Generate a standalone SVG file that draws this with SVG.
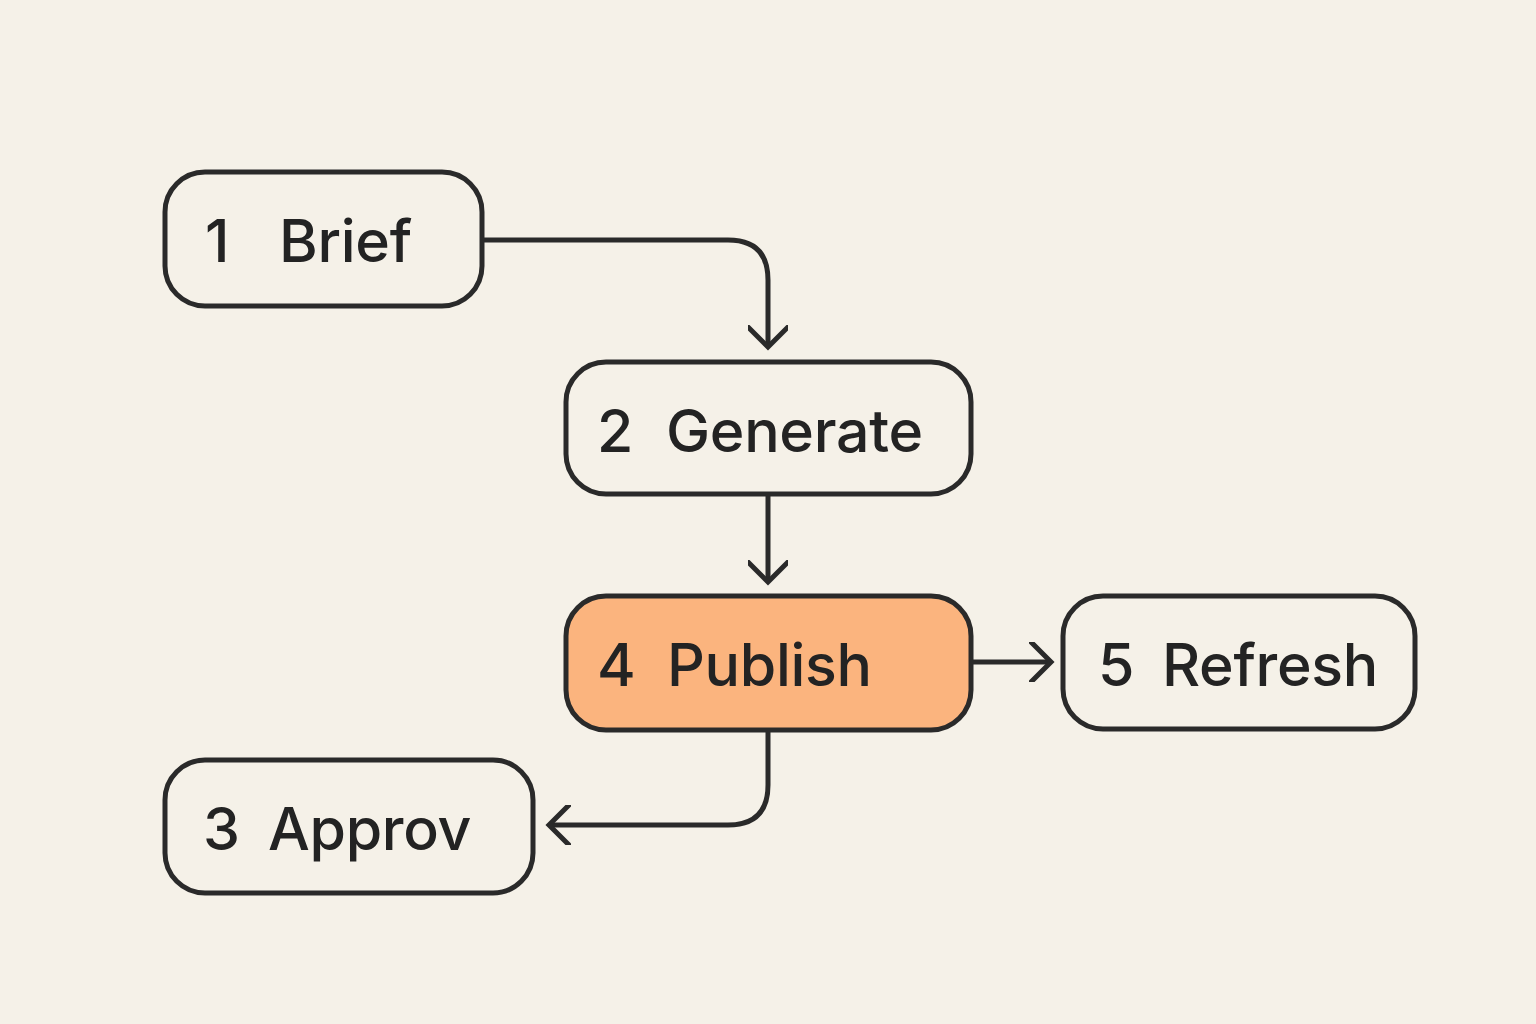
<svg xmlns="http://www.w3.org/2000/svg" width="1536" height="1024" viewBox="0 0 1536 1024">
<style>
.box{fill:none;stroke:#2a2a2a;stroke-width:5}
.hl{fill:#fbb47e}
.lbl{font-family:Inter,"Noto Sans","Liberation Sans",sans-serif;font-size:59px;font-weight:500;fill:#232323;letter-spacing:-0.3px}
.edge{fill:none;stroke:#2a2a2a;stroke-width:5;stroke-linejoin:round}
</style>
<defs>
<marker id="chev" markerUnits="userSpaceOnUse" markerWidth="40" markerHeight="40" refX="22" refY="20" orient="auto" viewBox="0 0 40 40">
<polyline points="2,0 22,20 2,40" fill="none" stroke="#2a2a2a" stroke-width="5" stroke-linecap="round" stroke-linejoin="miter"/>
</marker>
</defs>
<rect width="1536" height="1024" fill="#f5f1e8"/>
<g id="connectors">
<path class="edge" d="M482,240 H728 Q768,240 768,280 V347" marker-end="url(#chev)"/>
<path class="edge" d="M768,494 V582" marker-end="url(#chev)"/>
<path class="edge" d="M971,662 H1051" marker-end="url(#chev)"/>
<path class="edge" d="M768,730 V785 Q768,825 728,825 H549" marker-end="url(#chev)"/>
</g>
<g id="n1">
<rect class="box" x="165" y="172" width="317" height="134" rx="40"/>
<text class="lbl" y="262"><tspan x="205">1</tspan><tspan x="279">Brief</tspan></text>
</g>
<g id="n2">
<rect class="box" x="566" y="362" width="405" height="132" rx="40"/>
<text class="lbl" y="452"><tspan x="597">2</tspan><tspan x="666">Generate</tspan></text>
</g>
<g id="n4">
<rect class="box hl" x="566" y="596" width="405" height="134" rx="40"/>
<text class="lbl" y="686"><tspan x="597">4</tspan><tspan x="667">Publish</tspan></text>
</g>
<g id="n5">
<rect class="box" x="1063" y="596" width="352" height="133" rx="40"/>
<text class="lbl" y="686"><tspan x="1098">5</tspan><tspan x="1162">Refresh</tspan></text>
</g>
<g id="n3">
<rect class="box" x="165" y="760" width="368" height="133" rx="40"/>
<text class="lbl" y="850"><tspan x="203">3</tspan><tspan x="268">Approv</tspan></text>
</g>
</svg>
